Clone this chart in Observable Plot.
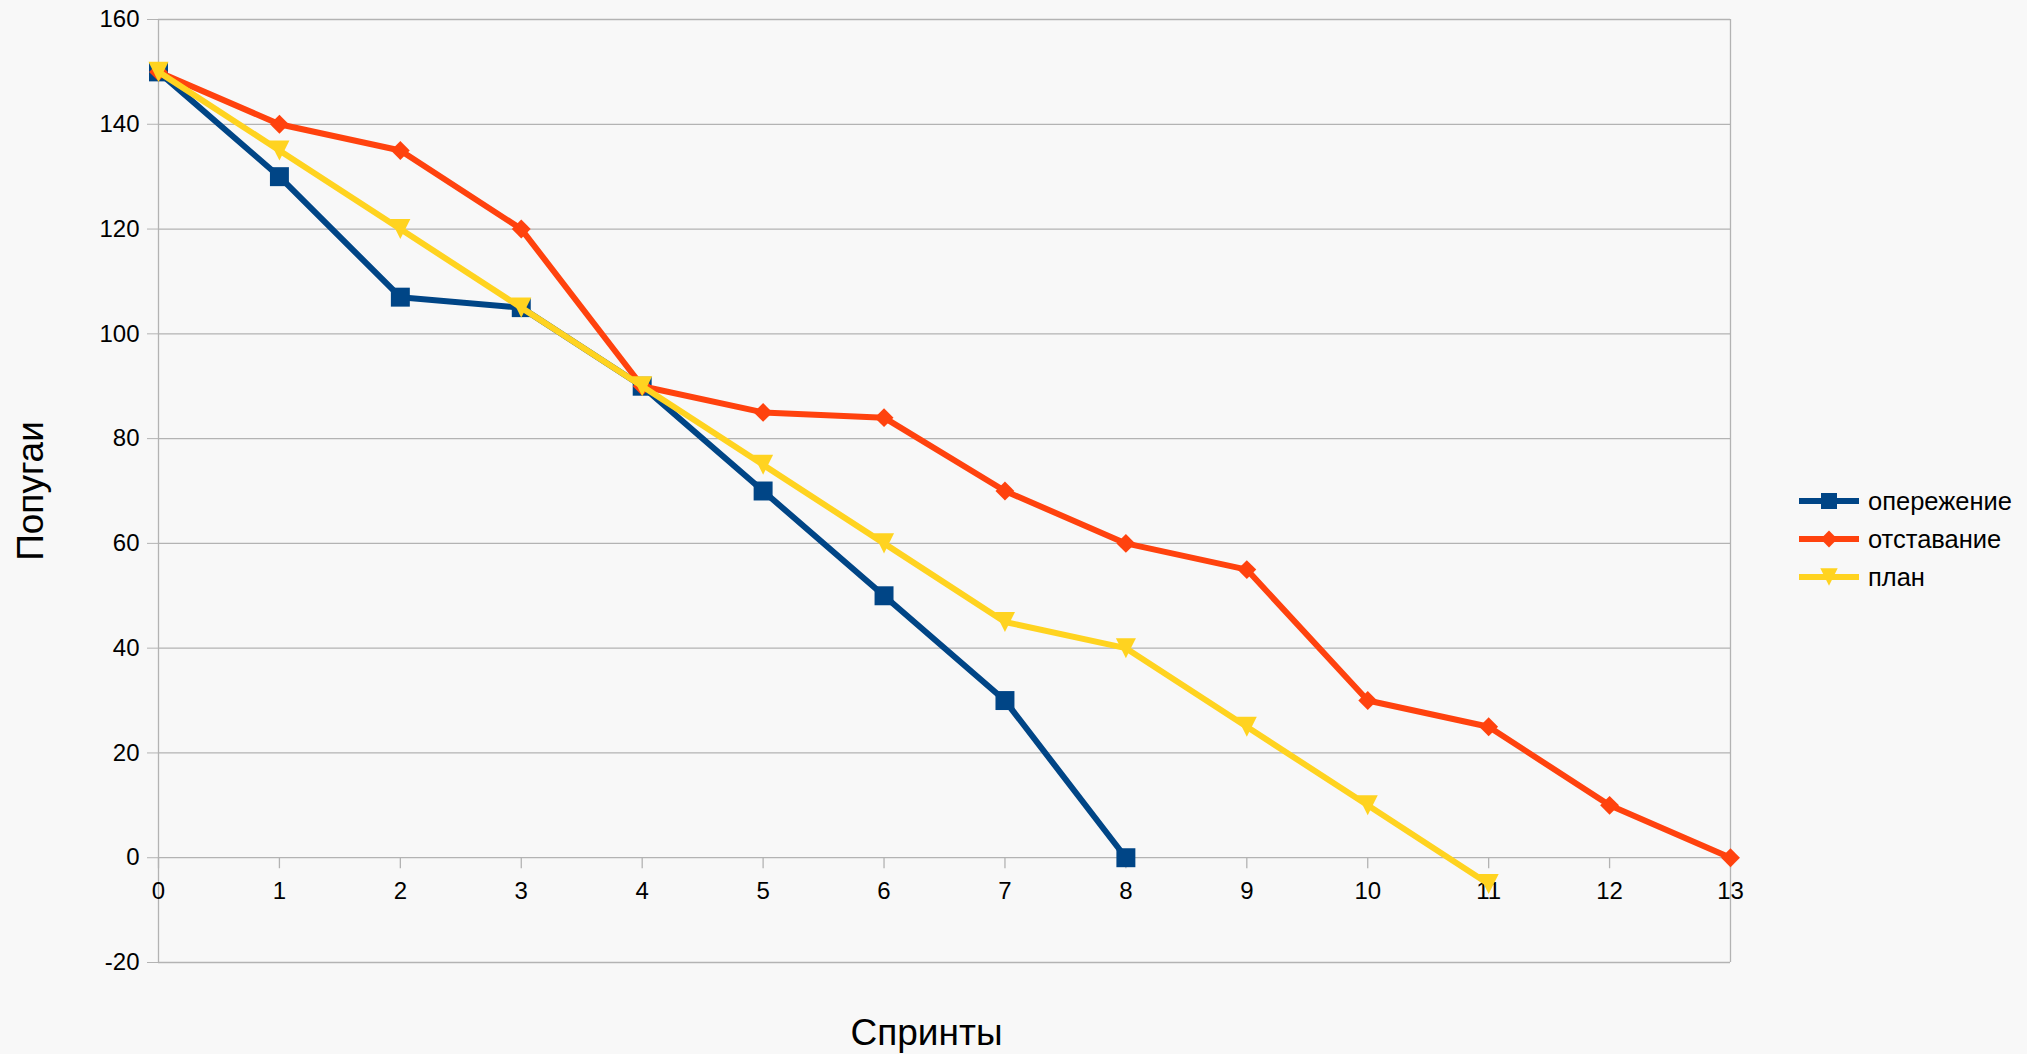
<!DOCTYPE html>
<html>
<head>
<meta charset="utf-8">
<script src="https://cdn.jsdelivr.net/npm/d3@7"></script>
<script src="https://cdn.jsdelivr.net/npm/@observablehq/plot@0.6"></script>
<style>
  html, body { margin: 0; padding: 0; background: #f8f8f8; }
  #wrap { position: relative; width: 2027px; height: 1054px; font-family: "Liberation Sans", Arial, sans-serif; }
  #legend { position: absolute; left: 1798px; top: 482px; font-size: 25.5px; color: #000; }
  #legend .row { display: flex; align-items: center; height: 38px; }
  #legend svg { margin-right: 8px; }
</style>
</head>
<body>
<div id="wrap"></div>
<script>
// ---- data ----
const sprints = [0, 1, 2, 3, 4, 5, 6, 7, 8, 9, 10, 11, 12, 13];
const yTicks = [-20, 0, 20, 40, 60, 80, 100, 120, 140, 160];
const seriesNames = ["опережение", "отставание", "план"];
const seriesColors = ["#004586", "#ff420e", "#ffd320"];
const opережение = [150, 130, 107, 105, 90, 70, 50, 30, 0];
const отставание = [150, 140, 135, 120, 90, 85, 84, 70, 60, 55, 30, 25, 10, 0];
const план = [150, 135, 120, 105, 90, 75, 60, 45, 40, 25, 10, -5];
const xTitle = "Спринты";
const yTitle = "Попугаи";

const seriesValues = [opережение, отставание, план];
const rows = [];
seriesValues.forEach((vals, i) => {
  vals.forEach((v, j) => rows.push({ sprint: sprints[j], value: v, series: seriesNames[i] }));
});

// custom symbols
const downTriangle = {
  draw(ctx, size) {
    const s = Math.sqrt(2 * size), h = s / 2;
    ctx.moveTo(-h, -h); ctx.lineTo(h, -h); ctx.lineTo(0, h); ctx.closePath();
  }
};
const symbols = ["square", "diamond2", downTriangle];
const symbolR = [10.7, 8.5, 8.0];

const grid = "#b3b3b3";
const font = "Liberation Sans, Arial, sans-serif";

const seriesMarks = seriesNames.flatMap((name, i) => {
  const data = rows.filter(d => d.series === name);
  return [
    Plot.line(data, { x: "sprint", y: "value", stroke: seriesColors[i], strokeWidth: 6, strokeLinejoin: "round" }),
    Plot.dot(data, { x: "sprint", y: "value", symbol: () => symbols[i], r: symbolR[i], fill: seriesColors[i], stroke: "none" })
  ];
});

const chart = Plot.plot({
  width: 2027,
  height: 1054,
  marginLeft: 158,
  marginRight: 297,
  marginTop: 19,
  marginBottom: 92,
  style: { background: "transparent", fontFamily: font, fontSize: "24px", color: "#000", overflow: "visible" },
  x: { domain: [0, 13], axis: null },
  y: { domain: [-20, 160] },
  symbol: { type: "identity" },
  marks: [
    Plot.ruleY(yTicks, { y: d => d, stroke: grid, strokeWidth: 1.3 }),
    Plot.axisY(yTicks, { tickSize: 11, tickPadding: 8, stroke: grid, fill: "#000", fontSize: 24, tickFormat: d => String(d), label: null }),
    Plot.ruleX([sprints[0], sprints[sprints.length - 1]], { x: d => d, stroke: grid, strokeWidth: 1.3 }),
    Plot.ruleX(sprints, { x: d => d, y1: () => 0, y2: () => 0, insetBottom: -11, stroke: grid, strokeWidth: 1.3 }),
    Plot.text(sprints, { x: d => d, y: () => 0, dy: 34, text: d => String(d), fontSize: 24, fill: "#000" }),
    ...seriesMarks,
    Plot.text([xTitle], { frameAnchor: "bottom", textAnchor: "middle", lineAnchor: "middle", dx: -18, dy: 71, text: d => d, fontSize: 37, fill: "#000" }),
    Plot.text([yTitle], { frameAnchor: "left", textAnchor: "middle", lineAnchor: "middle", dx: -127, rotate: -90, text: d => d, fontSize: 37, fill: "#000" })
  ]
});

const wrap = document.getElementById("wrap");
wrap.appendChild(chart);

// legend
const legend = document.createElement("div");
legend.id = "legend";
seriesNames.forEach((name, i) => {
  const row = document.createElement("div");
  row.className = "row";
  const svg = d3.create("svg").attr("width", 62).attr("height", 24);
  svg.append("line").attr("x1", 1).attr("x2", 61).attr("y1", 12).attr("y2", 12)
    .attr("stroke", seriesColors[i]).attr("stroke-width", 6);
  const sym = i === 0 ? d3.symbolSquare : i === 1 ? d3.symbolDiamond2 : downTriangle;
  const size = i === 0 ? 16 * 16 : i === 1 ? 180 : 150;
  svg.append("path").attr("transform", "translate(31,12)")
    .attr("d", d3.symbol(sym, size)()).attr("fill", seriesColors[i]);
  row.appendChild(svg.node());
  const span = document.createElement("span");
  span.textContent = name;
  row.appendChild(span);
  legend.appendChild(row);
});
wrap.appendChild(legend);
</script>
</body>
</html>
